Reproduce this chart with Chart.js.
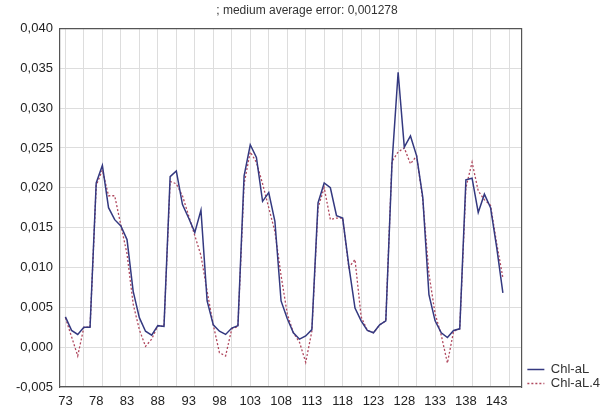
<!DOCTYPE html>
<html>
<head>
<meta charset="utf-8">
<script src="https://cdn.jsdelivr.net/npm/chart.js@4.4.1/dist/chart.umd.min.js"></script>
<style>
  html, body { margin: 0; padding: 0; background: #ffffff; }
  #wrap { width: 612px; height: 405px; position: relative; }
</style>
</head>
<body>
<div id="wrap"><canvas id="c" width="612" height="405"></canvas></div>
<script>
const titleText = '; medium average error: 0,001278';
const cases = [73,74,75,76,77,78,79,80,81,82,83,84,85,86,87,88,89,90,91,92,93,94,95,96,97,98,99,100,
  101,102,103,104,105,106,107,108,109,110,111,112,113,114,115,116,117,118,119,120,121,122,123,124,125,
  126,127,128,129,130,131,132,133,134,135,136,137,138,139,140,141,142,143,144];
const chlaL = [0.0038,0.0021,0.0016,0.0025,0.0025,0.0206,0.0228,0.0175,0.0160,0.0152,0.0135,0.0070,
  0.0037,0.0020,0.0015,0.0027,0.0026,0.0214,0.0221,0.0179,0.0162,0.0144,0.0172,0.0058,0.0028,0.0020,
  0.0016,0.0024,0.0027,0.0215,0.0254,0.0238,0.0183,0.0194,0.0158,0.0058,0.0036,0.0018,0.0010,0.0014,
  0.0022,0.0181,0.0206,0.0200,0.0165,0.0162,0.0102,0.0049,0.0033,0.0021,0.0018,0.0028,0.0033,0.0230,
  0.0345,0.0251,0.0265,0.0240,0.0188,0.0066,0.0033,0.0018,0.0012,0.0021,0.0023,0.0210,0.0212,0.0169,
  0.0192,0.0175,0.0125,0.0068];
const chlaL4 = [0.0037,0.0013,-0.0011,0.0025,0.0025,0.0203,0.0222,0.0190,0.0190,0.0153,0.0117,0.0054,
  0.0022,0.0001,0.0010,0.0027,0.0026,0.0208,0.0205,0.0190,0.0165,0.0140,0.0115,0.0070,0.0028,-0.0007,
  -0.0011,0.0023,0.0026,0.0205,0.0245,0.0232,0.0205,0.0175,0.0145,0.0090,0.0042,0.0018,0.0006,-0.0019,
  0.0020,0.0175,0.0200,0.0160,0.0162,0.0162,0.0100,0.0110,0.0038,0.0021,0.0018,0.0028,0.0033,0.0233,
  0.0245,0.0250,0.0230,0.0240,0.0185,0.0092,0.0042,0.0015,-0.0020,0.0020,0.0023,0.0200,0.0232,0.0196,
  0.0185,0.0178,0.0130,0.0087];
const xTickLabels = [73,78,83,88,93,98,103,108,113,118,123,128,133,138,143];
const xGridTicks = [73,76,79,82,85,88,91,94,97,100,103,106,109,112,115,118,121,124,127,130,133,136,139,142,145];
const seriesNames = ['Chl-aL', 'Chl-aL.4'];

const FONT = "'Liberation Sans', Arial, sans-serif";
const X_MIN = 72.1, X_MAX = 147.0;
const Y_MIN = -0.005, Y_MAX = 0.040, Y_STEP = 0.005;
const fmt = v => (Math.abs(v) < 1e-9 ? 0 : v).toFixed(3).replace('.', ',');

const legendShift = {
  id: 'legendShift',
  afterLayout(chart) {
    const lg = chart.legend;
    if (lg) { lg.top -= 25; lg.bottom -= 25; lg.left += 5; lg.right += 5; }
  }
};

new Chart(document.getElementById('c'), {
  type: 'line',
  data: {
    datasets: [
      {
        label: seriesNames[0],
        data: cases.map((c, i) => ({ x: c, y: chlaL[i] })),
        borderColor: '#343980',
        backgroundColor: 'transparent',
        borderWidth: 1.5,
        pointRadius: 0,
        tension: 0,
        fill: false
      },
      {
        label: seriesNames[1],
        data: cases.map((c, i) => ({ x: c, y: chlaL4[i] })),
        borderColor: '#b0485e',
        backgroundColor: 'transparent',
        borderWidth: 1.3,
        borderDash: [2, 2],
        pointRadius: 0,
        tension: 0,
        fill: false
      }
    ]
  },
  plugins: [legendShift],
  options: {
    responsive: false,
    animation: false,
    layout: { padding: { left: 9, right: 7, top: 0, bottom: -11 } },
    plugins: {
      title: {
        display: true,
        text: titleText,
        color: '#333333',
        font: { family: FONT, size: 12, weight: 'normal' },
        padding: { top: 3, bottom: 11 }
      },
      legend: {
        position: 'right',
        align: 'end',
        labels: {
          boxWidth: 17,
          boxHeight: 0,
          padding: 1,
          color: '#333333',
          font: { family: FONT, size: 13 }
        }
      },
      tooltip: { enabled: false }
    },
    scales: {
      x: {
        type: 'linear',
        position: 'bottom',
        min: X_MIN, max: X_MAX,
        afterBuildTicks: s => { s.ticks = xTickLabels.map(v => ({ value: v })); },
        ticks: {
          color: '#222222',
          font: { family: FONT, size: 13, lineHeight: 1.0 },
          padding: 8,
          maxRotation: 0,
          autoSkip: false,
          callback: v => String(v)
        },
        grid: { display: false, drawTicks: false },
        border: { display: true, color: '#555555', width: 1.2 }
      },
      xg: {
        type: 'linear',
        position: 'top',
        min: X_MIN, max: X_MAX,
        afterBuildTicks: s => { s.ticks = xGridTicks.map(v => ({ value: v })); },
        ticks: { display: false },
        grid: { display: true, color: '#dddddd', lineWidth: 1, drawTicks: false },
        border: { display: true, color: '#555555', width: 1.2 }
      },
      y: {
        type: 'linear',
        position: 'left',
        min: Y_MIN, max: Y_MAX,
        ticks: {
          stepSize: Y_STEP,
          color: '#222222',
          font: { family: FONT, size: 13 },
          padding: 7,
          callback: v => fmt(v)
        },
        grid: { display: true, color: '#dddddd', lineWidth: 1, drawTicks: false },
        border: { display: true, color: '#555555', width: 1.2 }
      },
      yr: {
        type: 'linear',
        position: 'right',
        min: Y_MIN, max: Y_MAX,
        ticks: { display: false, stepSize: Y_STEP },
        grid: { display: false, drawOnChartArea: false, drawTicks: false },
        border: { display: true, color: '#555555', width: 1.2 }
      }
    }
  }
});
</script>
</body>
</html>
